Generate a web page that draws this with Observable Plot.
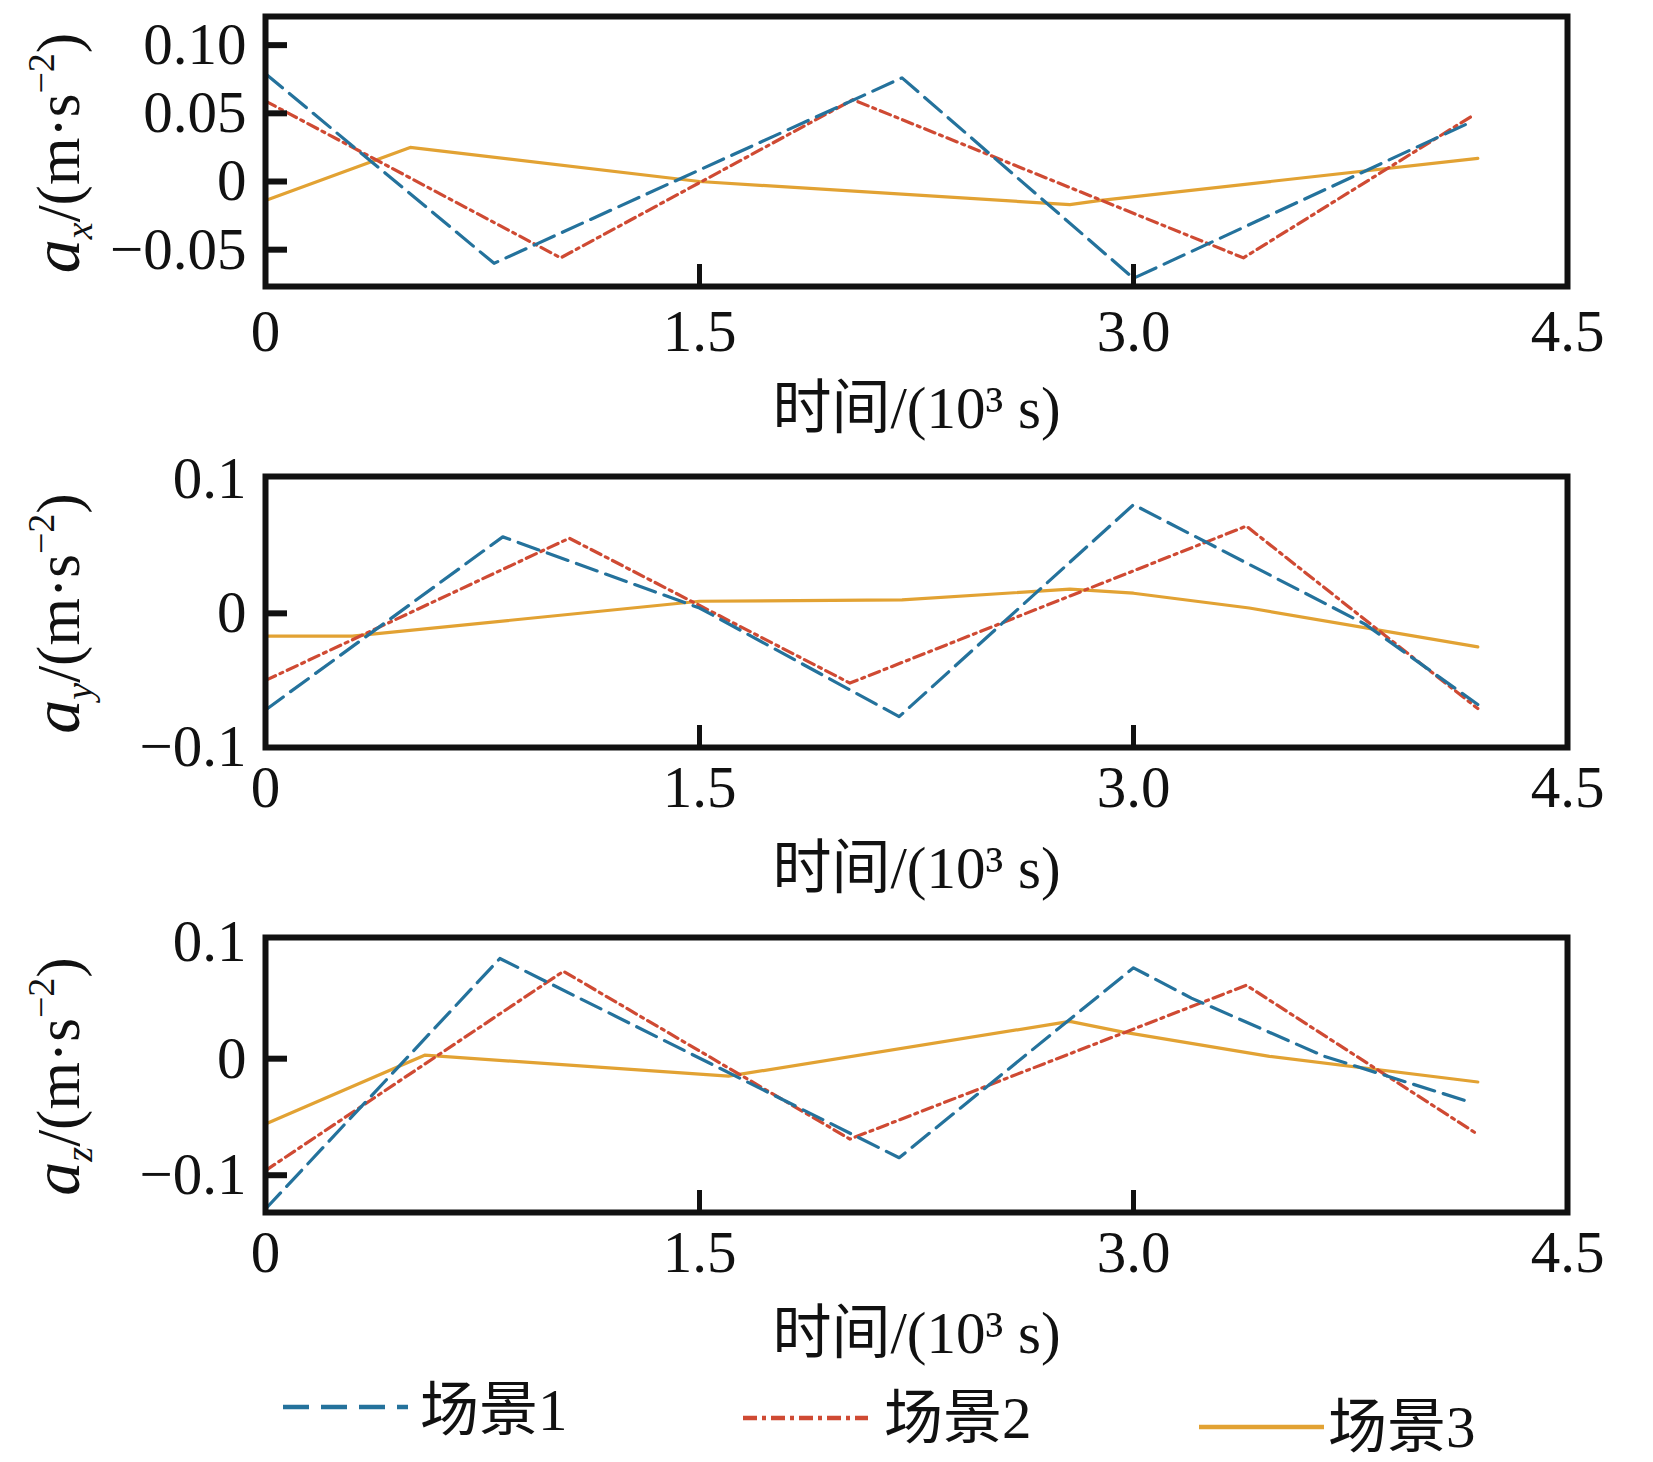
<!DOCTYPE html>
<html><head><meta charset="utf-8">
<script src="https://cdn.jsdelivr.net/npm/d3@7"></script>
<script src="https://cdn.jsdelivr.net/npm/@observablehq/plot@0.6"></script>
<style>
body{margin:0;background:#fff;}
#chart{position:relative;width:1653px;height:1462px;background:#fff;overflow:hidden;}
#chart svg{position:absolute;left:0;overflow:visible;}
</style></head><body><div id="chart"></div>
<script>
// ---------- data ----------
const seriesNames = ["场景1", "场景2", "场景3"];
const xTicks = [0, 1.5, 3.0, 4.5];
const xTickLabels = ["0", "1.5", "3.0", "4.5"];
const xInnerTicks = [1.5, 3.0];
const xTitle = "时间/(10³ s)";

// panel 1: a_x
const ax_s1_t = [0, 0.79, 2.20, 3.00, 4.16];
const ax_s1_v = [0.079, -0.060, 0.076, -0.071, 0.043];
const ax_s2_t = [0, 1.02, 2.03, 3.38, 4.17];
const ax_s2_v = [0.059, -0.056, 0.060, -0.056, 0.048];
const ax_s3_t = [0, 0.50, 1.50, 2.78, 2.88, 4.19];
const ax_s3_v = [-0.014, 0.025, 0.000, -0.017, -0.014, 0.017];
const ax_yTicks = [0.10, 0.05, 0, -0.05];
const ax_yTickLabels = ["0.10", "0.05", "0", "−0.05"];

// panel 2: a_y
const ay_s1_t = [0, 0.82, 1.50, 2.19, 3.00, 3.80, 4.19];
const ay_s1_v = [-0.072, 0.057, 0.004, -0.077, 0.081, -0.008, -0.068];
const ay_s2_t = [0, 1.05, 2.02, 3.39, 4.19];
const ay_s2_v = [-0.050, 0.056, -0.052, 0.065, -0.071];
const ay_s3_t = [0, 0.30, 1.50, 2.20, 2.78, 3.00, 3.40, 4.19];
const ay_s3_v = [-0.017, -0.017, 0.009, 0.010, 0.018, 0.015, 0.004, -0.025];
const ay_yTicks = [0.1, 0, -0.1];
const ay_yTickLabels = ["0.1", "0", "−0.1"];

// panel 3: a_z
const az_s1_t = [0, 0.81, 2.19, 3.00, 3.20, 3.66, 4.16];
const az_s1_v = [-0.129, 0.086, -0.085, 0.078, 0.052, 0.002, -0.037];
const az_s2_t = [0, 1.03, 2.02, 3.39, 4.19];
const az_s2_v = [-0.096, 0.075, -0.069, 0.063, -0.065];
const az_s3_t = [0, 0.55, 1.60, 2.78, 2.96, 3.47, 4.19];
const az_s3_v = [-0.056, 0.003, -0.015, 0.032, 0.023, 0.002, -0.020];
const az_yTicks = [0.1, 0, -0.1];
const az_yTickLabels = ["0.1", "0", "−0.1"];

// ---------- styles ----------
const colors = ["#24729c", "#cf4a33", "#e2a233"];
const dashes = ["22,9", "11,5,3,5", null];
const FONT = "'Liberation Serif','Noto Sans CJK SC',serif";
const FS = 59;

const panels = [
  {top: 0, height: 450, mt: 16, plotH: 270, yDomain: [-0.077, 0.121],
   series: [[ax_s1_t, ax_s1_v], [ax_s2_t, ax_s2_v], [ax_s3_t, ax_s3_v]],
   yTicks: ax_yTicks, yLabels: ax_yTickLabels, yInner: ax_yTicks, sub: "x",
   xPad: 23, titleDy: 123},
  {top: 450, height: 455, mt: 26, plotH: 271, yDomain: [-0.1, 0.102],
   series: [[ay_s1_t, ay_s1_v], [ay_s2_t, ay_s2_v], [ay_s3_t, ay_s3_v]],
   yTicks: ay_yTicks, yLabels: ay_yTickLabels, yInner: [0], sub: "y",
   xPad: 18, titleDy: 122},
  {top: 905, height: 470, mt: 32, plotH: 275, yDomain: [-0.132, 0.104],
   series: [[az_s1_t, az_s1_v], [az_s2_t, az_s2_v], [az_s3_t, az_s3_v]],
   yTicks: az_yTicks, yLabels: az_yTickLabels, yInner: [0, -0.1], sub: "z",
   xPad: 18, titleDy: 122}
];

const ML = 265, MR = 86, W = 1653;
const chart = document.getElementById("chart");

for (const p of panels) {
  const mb = p.height - p.mt - p.plotH;
  const lineMarks = [2, 1, 0].map(i => {
    const [ts, vs] = p.series[i];
    const rows = ts.map((t, k) => ({t, v: vs[k], s: seriesNames[i]}));
    const opts = {x: "t", y: "v", stroke: colors[i], strokeWidth: 3.2};
    if (dashes[i]) opts.strokeDasharray = dashes[i];
    return Plot.line(rows, opts);
  });
  const svg = Plot.plot({
    width: W, height: p.height,
    marginLeft: ML, marginRight: MR, marginTop: p.mt, marginBottom: mb,
    style: {fontFamily: FONT, fontSize: FS + "px", background: "transparent", color: "#111"},
    x: {domain: [0, 4.5]},
    y: {domain: p.yDomain},
    marks: [
      ...lineMarks,
      Plot.tickX(xInnerTicks, {x: d => d, insetTop: p.plotH - 22, stroke: "#111", strokeWidth: 5}),
      Plot.tickY(p.yInner, {y: d => d, insetRight: (W - ML - MR) - 22, stroke: "#111", strokeWidth: 6}),
      Plot.axisX(xTicks, {anchor: "bottom", tickSize: 0, tickPadding: p.xPad, fontSize: FS,
        tickFormat: d => xTickLabels[xTicks.indexOf(d)], label: null}),
      Plot.axisY(p.yTicks, {anchor: "left", tickSize: 0, tickPadding: 19, fontSize: FS,
        tickFormat: d => p.yLabels[p.yTicks.indexOf(d)], label: null}),
      Plot.text([xTitle], {frameAnchor: "bottom", dy: p.titleDy, fontSize: FS, lineAnchor: "middle", fill: "#111"}),
      Plot.frame({stroke: "#111", strokeWidth: 6})
    ]
  });
  svg.style.top = p.top + "px";
  // y-axis title with italic a, subscript and superscript
  const cy = p.mt + p.plotH / 2 + 2;
  const t = d3.select(svg).append("text")
    .attr("transform", `translate(79,${cy}) rotate(-90)`)
    .attr("text-anchor", "middle")
    .attr("font-family", FONT)
    .attr("font-size", 61)
    .attr("fill", "#111");
  t.append("tspan").attr("font-style", "italic").attr("font-size", 68).text("a");
  t.append("tspan").attr("font-style", "italic").attr("font-size", 38).attr("dy", 13).text(p.sub);
  t.append("tspan").attr("dy", -13).text("/(m·s");
  t.append("tspan").attr("font-size", 38).attr("dy", -25).text("−2");
  t.append("tspan").attr("dy", 25).text(")");
  chart.appendChild(svg);
}

// ---------- legend ----------
const legendItems = [
  {x1: 283, x2: 408, ly: 1407, tx: 420, ty: 1410},
  {x1: 743, x2: 868, ly: 1418, tx: 884, ty: 1418},
  {x1: 1199, x2: 1324, ly: 1427, tx: 1328, ty: 1427}
];
const legSvg = d3.create("svg").attr("width", W).attr("height", 1462)
  .style("top", "0px").style("pointer-events", "none");
legendItems.forEach((it, i) => {
  const ln = legSvg.append("line")
    .attr("x1", it.x1).attr("x2", it.x2).attr("y1", it.ly).attr("y2", it.ly)
    .attr("stroke", colors[i]).attr("stroke-width", 4.5);
  if (dashes[i]) ln.attr("stroke-dasharray", i === 0 ? "26,12" : "14,5,4,5");
  legSvg.append("text").attr("x", it.tx).attr("y", it.ty)
    .attr("dominant-baseline", "central")
    .attr("font-family", FONT).attr("font-size", FS).attr("fill", "#111")
    .text(seriesNames[i]);
});
chart.appendChild(legSvg.node());
</script>
</body></html>
